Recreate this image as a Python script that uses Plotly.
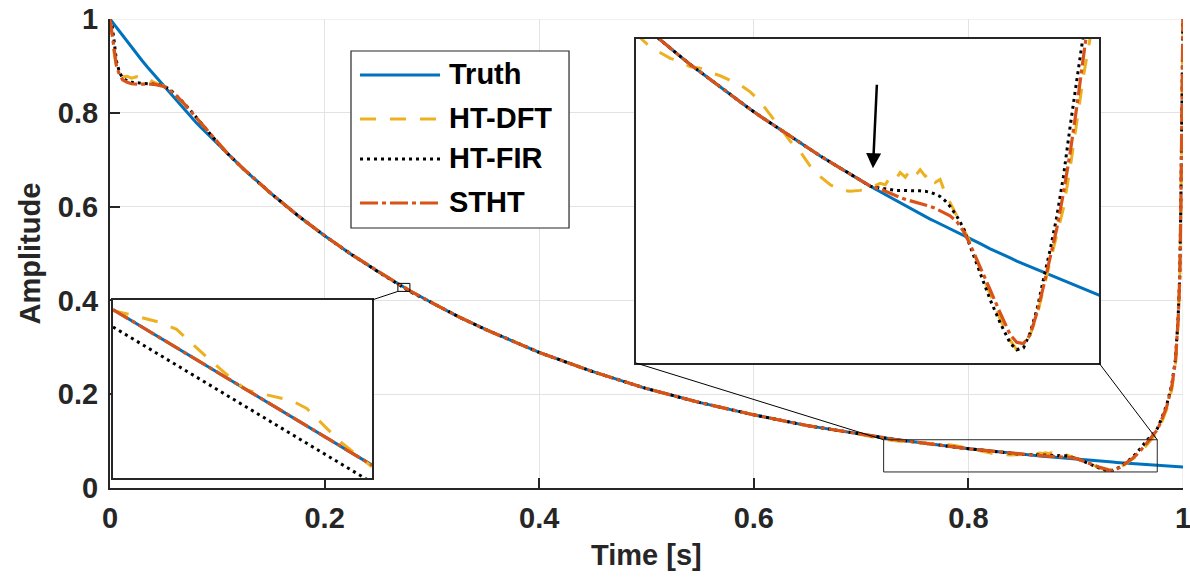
import numpy as np
import plotly.graph_objects as go

# ---------------- data ----------------
# coarse part of the curve (0 .. 0.7 s)
t_head = [0, 0.002, 0.004, 0.006, 0.009, 0.012, 0.016, 0.02, 0.025, 0.03, 0.035, 0.04,
          0.045, 0.05, 0.055, 0.06, 0.065, 0.07, 0.075, 0.08, 0.085, 0.09, 0.1, 0.11,
          0.125, 0.15, 0.175, 0.2, 0.225, 0.25, 0.3, 0.325, 0.35, 0.4, 0.45, 0.5, 0.55,
          0.6, 0.65, 0.7]
truth_head = [1.000, 0.994, 0.988, 0.982, 0.972, 0.963, 0.951, 0.940, 0.925, 0.911, 0.897,
              0.884, 0.870, 0.856, 0.843, 0.830, 0.817, 0.805, 0.793, 0.780, 0.768, 0.757,
              0.733, 0.711, 0.679, 0.628, 0.581, 0.538, 0.498, 0.461, 0.395, 0.365, 0.338,
              0.289, 0.248, 0.212, 0.182, 0.156, 0.133, 0.114]
dft_head = [1.000, 0.960, 0.925, 0.898, 0.882, 0.877, 0.878, 0.874, 0.877, 0.872, 0.874,
            0.866, 0.862, 0.857, 0.850, 0.840, 0.829, 0.817, 0.804, 0.791, 0.777, 0.764,
            0.737, 0.712, 0.679, 0.628, 0.581, 0.538, 0.498, 0.461, 0.395, 0.365, 0.338,
            0.289, 0.248, 0.212, 0.182, 0.156, 0.133, 0.114]
fir_head = [1.000, 0.985, 0.950, 0.910, 0.885, 0.874, 0.868, 0.865, 0.864, 0.863, 0.862,
            0.862, 0.860, 0.857, 0.851, 0.841, 0.830, 0.818, 0.805, 0.791, 0.777, 0.764,
            0.737, 0.712, 0.679, 0.628, 0.581, 0.538, 0.498, 0.461, 0.395, 0.365, 0.338,
            0.289, 0.248, 0.212, 0.182, 0.156, 0.133, 0.114]
stht_head = [1.000, 0.965, 0.930, 0.900, 0.880, 0.870, 0.865, 0.862, 0.861, 0.861, 0.861,
             0.861, 0.859, 0.856, 0.850, 0.840, 0.829, 0.817, 0.804, 0.791, 0.777, 0.764,
             0.737, 0.712, 0.679, 0.628, 0.581, 0.538, 0.498, 0.461, 0.395, 0.365, 0.338,
             0.289, 0.248, 0.212, 0.182, 0.156, 0.133, 0.114]

# fine detail around t = 0.274 s (lower-left inset)
t_mid = [0.26830, 0.26917, 0.27032, 0.27105, 0.27249, 0.27350, 0.27408, 0.27466,
         0.27603, 0.27668, 0.27813, 0.27950]
truth_mid = [0.43538, 0.43422, 0.43268, 0.43171, 0.42978, 0.42843, 0.42767, 0.42689,
             0.42506, 0.42419, 0.42227, 0.42044]
dft_mid = [0.43527, 0.43483, 0.43415, 0.43348, 0.43053, 0.42861, 0.42765, 0.42733,
           0.42662, 0.42588, 0.42268, 0.42028]
fir_mid = [0.43371, 0.43255, 0.43101, 0.43004, 0.42811, 0.42676, 0.42600, 0.42522,
           0.42339, 0.42252, 0.42060, 0.41877]
stht_mid = [0.43538, 0.43422, 0.43268, 0.43171, 0.42978, 0.42843, 0.42767, 0.42689,
            0.42506, 0.42419, 0.42227, 0.42044]

# fine detail near the end of the record (upper-right inset and final rise)
t_end = [0.7210, 0.7271, 0.7335, 0.7399, 0.7454, 0.7509, 0.7564, 0.7619, 0.7674, 0.7729,
         0.7784, 0.7839, 0.7895, 0.7950, 0.8005, 0.8060, 0.8115, 0.8170, 0.8225, 0.8280,
         0.8335, 0.8390, 0.8445, 0.8500, 0.8555, 0.8583, 0.8610, 0.8638, 0.8665, 0.8693,
         0.8720, 0.8748, 0.8775, 0.8803, 0.8830, 0.8858, 0.8885, 0.8913, 0.8940, 0.8977,
         0.9014, 0.9051, 0.9106, 0.9161, 0.9216, 0.9271, 0.9307, 0.9344, 0.9381, 0.9418,
         0.9454, 0.9491, 0.9528, 0.9564, 0.9601, 0.9638, 0.9674, 0.9711, 0.9761,
         0.9800, 0.9848, 0.9895, 0.9930, 0.9955, 0.9970, 0.9980, 0.9990, 1.0000]
truth_end = [0.1070, 0.1050, 0.1029, 0.1009, 0.0992, 0.0975, 0.0959, 0.0943, 0.0927, 0.0911,
             0.0895, 0.0880, 0.0865, 0.0851, 0.0836, 0.0822, 0.0808, 0.0795, 0.0781, 0.0768,
             0.0755, 0.0742, 0.0730, 0.0717, 0.0705, 0.0699, 0.0693, 0.0687, 0.0681, 0.0676,
             0.0670, 0.0664, 0.0659, 0.0653, 0.0647, 0.0642, 0.0637, 0.0631, 0.0626, 0.0619,
             0.0612, 0.0605, 0.0595, 0.0584, 0.0575, 0.0565, 0.0558, 0.0552, 0.0546, 0.0540,
             0.0534, 0.0528, 0.0522, 0.0516, 0.0510, 0.0504, 0.0498, 0.0493, 0.0485,
             0.0479, 0.0472, 0.0465, 0.0460, 0.0457, 0.0455, 0.0453, 0.0452, 0.0450]
dft_end = [0.1040, 0.1018, 0.1002, 0.0988, 0.0981, 0.0970, 0.0967, 0.0958, 0.0951, 0.0942,
           0.0932, 0.0917, 0.0896, 0.0868, 0.0840, 0.0812, 0.0790, 0.0759, 0.0737, 0.0720,
           0.0709, 0.0706, 0.0708, 0.0713, 0.0723, 0.0720, 0.0736, 0.0730, 0.0746, 0.0736,
           0.0750, 0.0738, 0.0752, 0.0738, 0.0745, 0.0725, 0.0731, 0.0702, 0.0682, 0.0653,
           0.0626, 0.0598, 0.0540, 0.0489, 0.0434, 0.0390, 0.0370, 0.0379, 0.0402, 0.0441,
           0.0501, 0.0557, 0.0614, 0.0670, 0.0755, 0.0854, 0.0949, 0.1030, 0.1180,
           0.140, 0.168, 0.210, 0.265, 0.355, 0.445, 0.590, 0.790, 1.020]
fir_end = [0.1070, 0.1050, 0.1029, 0.1009, 0.0992, 0.0975, 0.0959, 0.0943, 0.0927, 0.0911,
           0.0895, 0.0880, 0.0865, 0.0851, 0.0836, 0.0822, 0.0808, 0.0795, 0.0781, 0.0768,
           0.0755, 0.0742, 0.0730, 0.0717, 0.0713, 0.0711, 0.0709, 0.0708, 0.0708, 0.0708,
           0.0707, 0.0707, 0.0707, 0.0706, 0.0704, 0.0700, 0.0695, 0.0686, 0.0674, 0.0653,
           0.0628, 0.0589, 0.0533, 0.0476, 0.0427, 0.0384, 0.0370, 0.0374, 0.0406, 0.0455,
           0.0519, 0.0582, 0.0653, 0.0737, 0.0843, 0.0943, 0.1042, 0.1120, 0.1270,
           0.148, 0.177, 0.220, 0.275, 0.365, 0.455, 0.610, 0.810, 1.020]
stht_end = [0.1070, 0.1050, 0.1029, 0.1009, 0.0992, 0.0975, 0.0959, 0.0943, 0.0927, 0.0911,
            0.0895, 0.0880, 0.0865, 0.0851, 0.0836, 0.0822, 0.0808, 0.0795, 0.0781, 0.0768,
            0.0755, 0.0742, 0.0730, 0.0717, 0.0711, 0.0706, 0.0702, 0.0697, 0.0693, 0.0689,
            0.0686, 0.0683, 0.0681, 0.0677, 0.0674, 0.0670, 0.0665, 0.0660, 0.0654, 0.0642,
            0.0621, 0.0593, 0.0543, 0.0497, 0.0448, 0.0402, 0.0386, 0.0383, 0.0402, 0.0448,
            0.0504, 0.0564, 0.0628, 0.0702, 0.0787, 0.0886, 0.0992, 0.1097, 0.1240,
            0.145, 0.173, 0.216, 0.270, 0.360, 0.450, 0.600, 0.800, 1.020]

series_names = ["Truth", "HT-DFT", "HT-FIR", "STHT"]
x_ticks = [0, 0.2, 0.4, 0.6, 0.8, 1]
x_ticktext = ["0", "0.2", "0.4", "0.6", "0.8", "1"]
y_ticks = [0, 0.2, 0.4, 0.6, 0.8, 1]
y_ticktext = ["0", "0.2", "0.4", "0.6", "0.8", "1"]
x_title = "Time [s]"
y_title = "Amplitude"

# zoom windows
inset1_xr = [0.2683, 0.2795]
inset1_yr = [0.4192, 0.4363]
inset2_xr = [0.721, 0.976]
inset2_yr = [0.0342, 0.1029]

# ---------------- styling ----------------
FONT = "Liberation Sans, Arial, sans-serif"
AX = "#262626"
GRID = "#e3e3e3"
styles = {
    "Truth": dict(color="#0072BD", dash="solid", width=3),
    "HT-DFT": dict(color="#EDB120", dash="16px,14px", width=3),
    "HT-FIR": dict(color="#000000", dash="3px,4px", width=3),
    "STHT": dict(color="#D95319", dash="18px,4px,4px,4px", width=3.2),
}

heads = [truth_head, dft_head, fir_head, stht_head]
mids = [truth_mid, dft_mid, fir_mid, stht_mid]
ends = [truth_end, dft_end, fir_end, stht_end]

t_all = np.concatenate([t_head, t_mid, t_end])
order = np.argsort(t_all, kind="stable")

fig = go.Figure()
for name, h, m, e in zip(series_names, heads, mids, ends):
    y_all = np.concatenate([h, m, e])
    st = styles[name]
    line = dict(color=st["color"], dash=st["dash"], width=st["width"])
    fig.add_trace(go.Scatter(x=t_all[order], y=y_all[order], mode="lines", line=line,
                             name=name, showlegend=False, xaxis="x", yaxis="y",
                             hoverinfo="skip"))
    fig.add_trace(go.Scatter(x=t_mid, y=m, mode="lines", line=line, showlegend=False,
                             xaxis="x2", yaxis="y2", hoverinfo="skip"))
    fig.add_trace(go.Scatter(x=t_end, y=e, mode="lines", line=line, showlegend=False,
                             xaxis="x3", yaxis="y3", hoverinfo="skip"))

main_tickfont = dict(family=FONT, size=29, color=AX, weight="bold")
inset_ax = dict(showline=True, mirror=True, linecolor=AX, linewidth=1.5, ticks="",
                showticklabels=False, showgrid=False, zeroline=False, automargin=False)

fig.update_layout(
    width=1190, height=577,
    margin=dict(l=110, r=7, t=19, b=89, autoexpand=False),
    paper_bgcolor="white", plot_bgcolor="white",
    xaxis=dict(domain=[0, 1], range=[0, 1], anchor="y", tickvals=x_ticks, ticktext=x_ticktext,
               ticks="inside", ticklen=10, tickwidth=1.5, tickcolor=AX,
               showline=True, linecolor=AX, linewidth=2, showgrid=True,
               gridcolor=GRID, gridwidth=1, zeroline=False, tickfont=main_tickfont,
               ticklabelstandoff=3, ticklabeloverflow="allow", automargin=False),
    yaxis=dict(domain=[0, 1], range=[0, 1], anchor="x", tickvals=y_ticks, ticktext=y_ticktext,
               ticks="inside", ticklen=10, tickwidth=1.5, tickcolor=AX,
               showline=True, linecolor=AX, linewidth=2, showgrid=True,
               gridcolor=GRID, gridwidth=1, zeroline=False, tickfont=main_tickfont,
               ticklabelstandoff=4, ticklabeloverflow="allow", automargin=False),
    xaxis2=dict(domain=[0.0028, 0.2442], range=inset1_xr, anchor="y2", **inset_ax),
    yaxis2=dict(domain=[0.0213, 0.4009], range=inset1_yr, anchor="x2", **inset_ax),
    xaxis3=dict(domain=[0.4902, 0.9217], range=inset2_xr, anchor="y3", **inset_ax),
    yaxis3=dict(domain=[0.2665, 0.9574], range=inset2_yr, anchor="x3", **inset_ax),
    showlegend=False,
)

shapes = []
# grid lines on the outer edges (y = 1 and x = 1)
shapes.append(dict(type="line", xref="x", yref="y", x0=0, x1=1, y0=1, y1=1,
                   line=dict(color=GRID, width=1), layer="below"))
shapes.append(dict(type="line", xref="x", yref="y", x0=1, x1=1, y0=0, y1=1,
                   line=dict(color=GRID, width=1), layer="below"))
# zoom rectangles in main axes
shapes.append(dict(type="rect", xref="x", yref="y", x0=inset1_xr[0], x1=inset1_xr[1],
                   y0=inset1_yr[0], y1=inset1_yr[1], line=dict(color="#000000", width=1),
                   layer="above"))
shapes.append(dict(type="rect", xref="x", yref="y", x0=inset2_xr[0], x1=inset2_xr[1],
                   y0=inset2_yr[0], y1=inset2_yr[1], line=dict(color=AX, width=1),
                   layer="above"))
# connectors
shapes.append(dict(type="line", xref="paper", yref="paper", x0=0.2442, y0=0.4009,
                   x1=inset1_xr[0], y1=inset1_yr[0], line=dict(color="#000000", width=1)))
shapes.append(dict(type="line", xref="paper", yref="paper", x0=0.4902, y0=0.2665,
                   x1=inset2_xr[0], y1=inset2_yr[1], line=dict(color="#000000", width=1)))
shapes.append(dict(type="line", xref="paper", yref="paper", x0=0.9217, y0=0.2665,
                   x1=inset2_xr[1], y1=inset2_yr[1], line=dict(color="#000000", width=1)))

# legend box (drawn manually to match MATLAB sample length)
leg_x0, leg_x1, leg_y0, leg_y1 = 0.2246, 0.4278, 0.5544, 0.9318
shapes.append(dict(type="rect", xref="paper", yref="paper", x0=leg_x0, x1=leg_x1,
                   y0=leg_y0, y1=leg_y1, fillcolor="white", line=dict(color=AX, width=1.2),
                   layer="above"))
leg_rows = [0.8806, 0.7868, 0.7015, 0.6077]
annotations = []
for name, yy in zip(series_names, leg_rows):
    st = styles[name]
    shapes.append(dict(type="line", xref="paper", yref="paper", x0=0.2330, x1=0.3076,
                       y0=yy, y1=yy, layer="above",
                       line=dict(color=st["color"], dash=st["dash"], width=st["width"])))
    annotations.append(dict(xref="paper", yref="paper", x=0.3141, y=yy + 0.002, text="<b>" + name + "</b>",
                            showarrow=False, xanchor="left", yanchor="middle",
                            font=dict(family=FONT, size=29, color="#000000")))

# axis titles
annotations.append(dict(xref="paper", yref="paper", x=0.5, y=-0.1429, text="<b>" + x_title + "</b>",
                        showarrow=False, xanchor="center", yanchor="middle",
                        font=dict(family=FONT, size=29, color=AX)))
annotations.append(dict(xref="paper", yref="paper", x=-0.0746, y=0.5, text="<b>" + y_title + "</b>",
                        showarrow=False, xanchor="center", yanchor="middle", textangle=-90,
                        font=dict(family=FONT, size=29, color=AX)))
# arrow in the upper-right inset
annotations.append(dict(xref="x3", yref="y3", x=0.8515, y=0.0755, ax=4, ay=-85, text="",
                        showarrow=True, arrowhead=2, arrowsize=1.2, arrowwidth=2.5,
                        arrowcolor="#000000"))

fig.update_layout(shapes=shapes, annotations=annotations)
fig.write_html("out.html")
